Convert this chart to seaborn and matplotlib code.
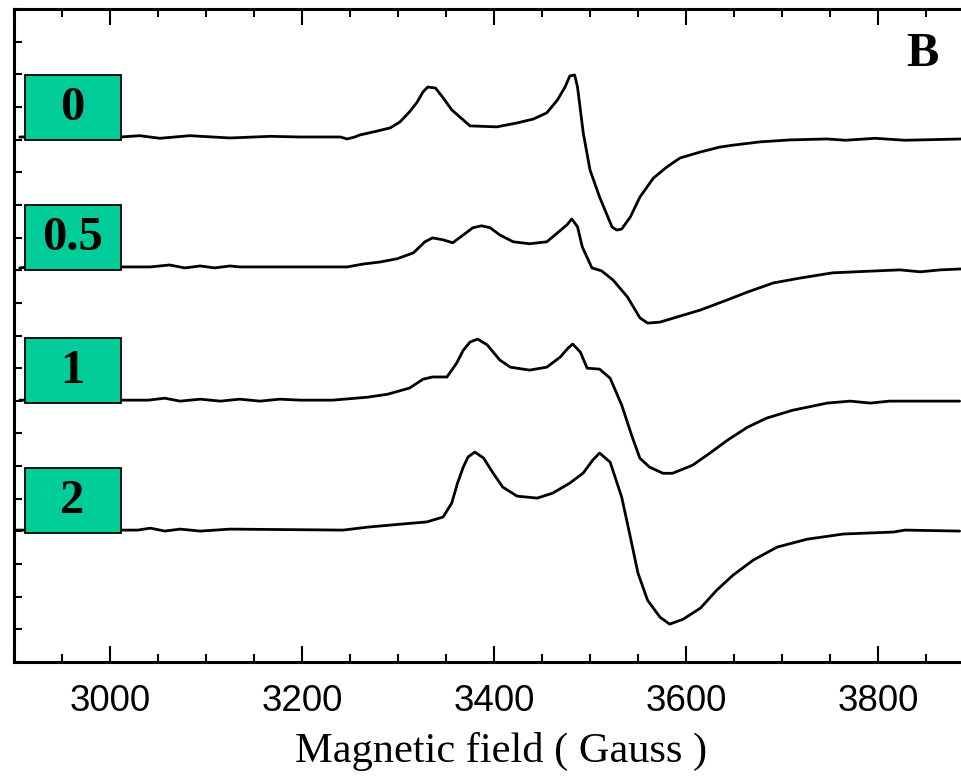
import numpy as np
import pandas as pd
import seaborn as sns
import matplotlib.pyplot as plt
from matplotlib.patches import Rectangle
from matplotlib.ticker import MultipleLocator

# EPR spectra (field in Gauss, signal relative to own baseline)
field_0 = [2906, 3011, 3031, 3052, 3083, 3125, 3167, 3198, 3240, 3247, 3255, 3260, 3278, 3292,
           3302, 3312, 3320, 3326, 3331, 3339, 3347, 3356, 3368, 3375, 3403, 3424, 3441, 3455,
           3466, 3474, 3479, 3484, 3487, 3493, 3500, 3510, 3523, 3528, 3533, 3542, 3552, 3566,
           3580, 3594, 3615, 3635, 3649, 3677, 3708, 3747, 3766, 3797, 3828, 3888]
signal_0 = [0, 0, 0.04, -0.04, 0.04, -0.03, 0.02, 0, 0, -0.06, 0, 0.06, 0.18, 0.28,
            0.46, 0.77, 1.07, 1.38, 1.53, 1.50, 1.20, 0.83, 0.52, 0.34, 0.31, 0.43, 0.55, 0.74,
            1.13, 1.53, 1.87, 1.90, 1.53, 0.12, -1.01, -1.84, -2.76, -2.85, -2.82, -2.45, -1.84, -1.26,
            -0.92, -0.64, -0.46, -0.31, -0.25, -0.15, -0.09, -0.06, -0.10, -0.04, -0.10, -0.06]

field_05 = [2906, 2927, 2948, 3042, 3062, 3078, 3094, 3109, 3125, 3135, 3247, 3264, 3281, 3299,
            3316, 3328, 3336, 3347, 3357, 3368, 3378, 3387, 3396, 3406, 3420, 3437, 3455, 3466,
            3476, 3481, 3487, 3492, 3502, 3512, 3524, 3539, 3552, 3560, 3573, 3591, 3615, 3643,
            3664, 3691, 3719, 3753, 3799, 3823, 3844, 3865, 3888]
signal_05 = [-0.03, 0.03, 0, 0, 0.06, -0.03, 0.03, -0.03, 0.03, 0, 0, 0.09, 0.15, 0.25,
             0.43, 0.77, 0.89, 0.83, 0.74, 0.98, 1.20, 1.26, 1.20, 0.98, 0.77, 0.71, 0.77, 1.04,
             1.29, 1.47, 1.23, 0.61, -0.03, -0.12, -0.40, -0.92, -1.56, -1.72, -1.69, -1.53, -1.32, -1.01,
             -0.77, -0.49, -0.34, -0.18, -0.12, -0.09, -0.15, -0.09, -0.06]

field_1 = [2906, 3040, 3057, 3073, 3094, 3115, 3135, 3156, 3177, 3198, 3232, 3268, 3289, 3312,
           3326, 3336, 3351, 3361, 3368, 3375, 3383, 3393, 3406, 3417, 3437, 3455, 3469, 3477,
           3482, 3490, 3497, 3510, 3521, 3533, 3544, 3552, 3562, 3576, 3586, 3607, 3625, 3643,
           3664, 3684, 3711, 3747, 3771, 3792, 3812, 3885]
signal_1 = [0, 0, 0.06, -0.03, 0.03, -0.03, 0.03, -0.03, 0.03, 0, 0, 0.09, 0.18, 0.37,
            0.64, 0.71, 0.71, 1.13, 1.53, 1.78, 1.87, 1.69, 1.23, 1.01, 0.92, 1.01, 1.32, 1.59,
            1.72, 1.47, 0.98, 0.95, 0.67, -0.15, -1.13, -1.78, -2.05, -2.24, -2.24, -1.99, -1.62, -1.23,
            -0.83, -0.55, -0.31, -0.09, -0.03, -0.09, -0.03, -0.03]

field_2 = [2900, 3029, 3042, 3057, 3073, 3094, 3125, 3243, 3268, 3302, 3330, 3347, 3356, 3362,
           3368, 3373, 3380, 3389, 3399, 3409, 3424, 3445, 3461, 3479, 3493, 3503, 3510, 3521,
           3533, 3542, 3550, 3560, 3573, 3583, 3597, 3615, 3632, 3649, 3670, 3695, 3726, 3764,
           3816, 3828, 3885]
signal_2 = [0, 0, 0.06, -0.03, 0.03, -0.03, 0.03, 0, 0.09, 0.18, 0.25, 0.40, 0.83, 1.44,
            1.93, 2.24, 2.39, 2.21, 1.75, 1.32, 1.04, 0.98, 1.13, 1.44, 1.75, 2.15, 2.36, 2.08,
            1.01, -0.21, -1.32, -2.15, -2.67, -2.88, -2.73, -2.39, -1.84, -1.38, -0.92, -0.52, -0.28, -0.12,
            -0.06, 0, -0.03]

labels = ['0', '0.5', '1', '2']
fields = [field_0, field_05, field_1, field_2]
signals = [signal_0, signal_05, signal_1, signal_2]
offsets = [16.08, 12.10, 8.02, 4.04]

sns.set_style('ticks')
plt.rcParams['font.family'] = ['Liberation Sans', 'DejaVu Sans']
plt.rcParams['text.color'] = 'black'
plt.rcParams['axes.labelcolor'] = 'black'
plt.rcParams['xtick.color'] = 'black'
plt.rcParams['ytick.color'] = 'black'

fig = plt.figure(figsize=(9.62, 7.78), dpi=100)
ax = fig.add_axes([14 / 962, 1 - 662 / 778, 960 / 962, 653 / 778])

frames = []
for lab, f, s, off in zip(labels, fields, signals, offsets):
    frames.append(pd.DataFrame({'field': f, 'y': np.array(s) + off, 'sample': lab}))
df = pd.concat(frames, ignore_index=True)

sns.lineplot(data=df, x='field', y='y', hue='sample', units='sample', estimator=None,
             palette=['black'] * 4, linewidth=2.0, legend=False, sort=False, ax=ax)

# green label boxes
for lab, off in zip(labels, offsets):
    ax.add_patch(Rectangle((2911, off - 0.1), 100, 2.0, facecolor='#00CC99',
                           edgecolor='black', linewidth=1.3, zorder=5))
    ax.text(2961, off + 0.9, lab, ha='center', va='center', fontsize=35, color='black',
            fontweight='bold', family='Liberation Serif', zorder=6)

ax.text(3846, 18.63, 'B', ha='center', va='center', fontsize=35, color='black',
        fontweight='bold', family='Liberation Serif')

ax.set_xlim(2900, 3900)
ax.set_ylim(0, 20)
ax.set_xticks([3000, 3200, 3400, 3600, 3800])
ax.xaxis.set_minor_locator(MultipleLocator(50))
ax.set_yticks(np.arange(0, 21, 1))
ax.set_yticklabels([])
ax.set_ylabel('')

ax.tick_params(axis='x', which='major', direction='in', top=True, length=11.5, width=1.5,
               labelsize=26.5, pad=16)
ax.tick_params(axis='x', which='minor', direction='in', top=True, length=6, width=1.5)
ax.tick_params(axis='y', which='both', direction='in', length=6, width=1.5, right=False)

for side in ['left', 'bottom', 'top', 'right']:
    ax.spines[side].set_linewidth(2.2)
    ax.spines[side].set_color('black')

ax.set_xlabel('Magnetic field ( Gauss )', fontsize=30.5, family='Liberation Serif')
ax.xaxis.set_label_coords(0.507, -0.107)

fig.savefig('out.png', dpi=100)
